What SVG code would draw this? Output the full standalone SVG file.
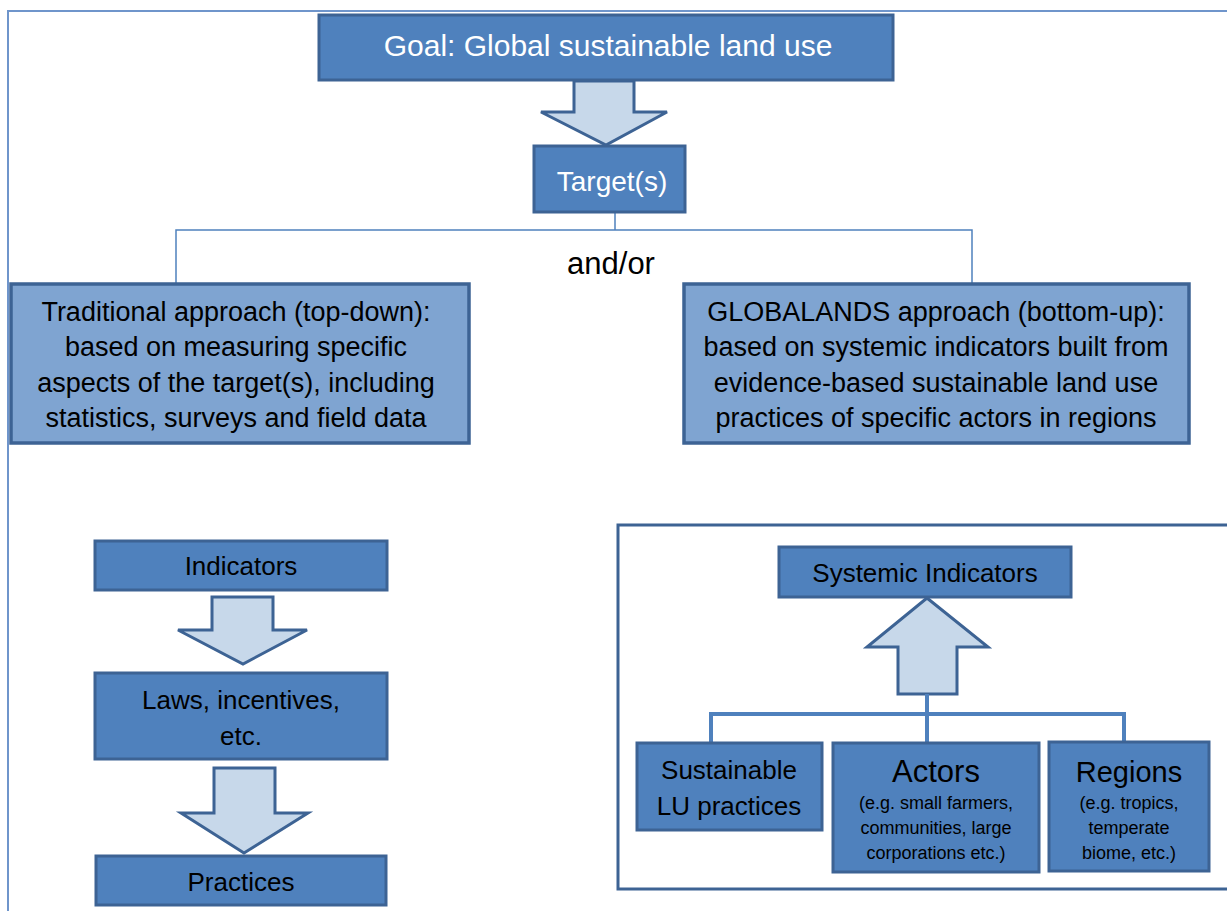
<svg xmlns="http://www.w3.org/2000/svg" width="1227" height="911" viewBox="0 0 1227 911">
<style>
.box{fill:#4f81bd;stroke:#3d6394;stroke-width:3}
.lbox{fill:#7fa4d1;stroke:#3d6394;stroke-width:3.5}
.arrow{fill:#c7d8ea;stroke:#3d6394;stroke-width:3;stroke-linejoin:miter}
.t{font-family:"Liberation Sans",Arial,sans-serif;text-anchor:middle;fill:#000}
.w{fill:#fff}
.thin{fill:none;stroke:#4f81bd;stroke-width:1.5}
.thick{fill:none;stroke:#4f81bd;stroke-width:4}
</style>
<rect width="1227" height="911" fill="#fff"/>
<g id="frame">
<path d="M8 911 V11 H1227" fill="none" stroke="#6f95cb" stroke-width="2"/>
<rect x="618" y="525" width="620" height="364" fill="none" stroke="#3d6394" stroke-width="3"/>
</g>
<g id="connectors">
<polygon class="arrow" points="574,81 634,81 634,112 667,112 606,145 541,112 574,112"/>
<path class="thin" d="M615 212 V230 M176 286 V230 H972 V286"/>
<polygon class="arrow" points="212,597 273,597 273,630 307,630 243,664 178,630 212,630"/>
<polygon class="arrow" points="214,768 275,768 275,813 308,813 244,853 181,813 214,813"/>
<polygon class="arrow" points="927,598 988,647 957,647 957,694 898,694 898,647 867,647"/>
<path class="thick" d="M927 694 V743 M711 743 V714 H1124 V742"/>
</g>
<g id="goal">
<rect class="box" x="319" y="15" width="574" height="65"/>
<text class="t w" x="608" y="56" font-size="30">Goal: Global sustainable land use</text>
</g>
<g id="target">
<rect class="box" x="534" y="146" width="151" height="66"/>
<text class="t w" x="612" y="191" font-size="28">Target(s)</text>
</g>
<g id="andor">
<text class="t" x="611" y="274" font-size="31">and/or</text>
</g>
<g id="traditional">
<rect class="lbox" x="11" y="284" width="458" height="159"/>
<text class="t" font-size="27"><tspan x="236" y="321">Traditional approach (top-down):</tspan><tspan x="236" y="356">based on measuring specific</tspan><tspan x="236" y="392">aspects of the target(s), including</tspan><tspan x="236" y="427">statistics, surveys and field data</tspan></text>
</g>
<g id="globalands">
<rect class="lbox" x="684" y="284" width="505" height="159"/>
<text class="t" font-size="27"><tspan x="936" y="321">GLOBALANDS approach (bottom-up):</tspan><tspan x="936" y="356">based on systemic indicators built from</tspan><tspan x="936" y="392">evidence-based  sustainable land use</tspan><tspan x="936" y="427">practices of specific actors in regions</tspan></text>
</g>
<g id="indicators">
<rect class="box" x="95" y="541" width="292" height="49"/>
<text class="t" x="241" y="575" font-size="26">Indicators</text>
</g>
<g id="laws">
<rect class="box" x="95" y="673" width="292" height="86"/>
<text class="t" font-size="26"><tspan x="241" y="709">Laws, incentives,</tspan><tspan x="241" y="745">etc.</tspan></text>
</g>
<g id="practices">
<rect class="box" x="96" y="856" width="290" height="49"/>
<text class="t" x="241" y="891" font-size="26">Practices</text>
</g>
<g id="systemic">
<rect class="box" x="779" y="547" width="292" height="50"/>
<text class="t" x="925" y="582" font-size="26">Systemic Indicators</text>
</g>
<g id="sustainable">
<rect class="box" x="637" y="743" width="185" height="87"/>
<text class="t" font-size="26"><tspan x="729" y="779">Sustainable</tspan><tspan x="729" y="815">LU practices</tspan></text>
</g>
<g id="actors">
<rect class="box" x="833" y="743" width="206" height="129"/>
<text class="t" x="936" y="782" font-size="31">Actors</text>
<text class="t" font-size="18"><tspan x="936" y="809">(e.g. small farmers,</tspan><tspan x="936" y="834">communities, large</tspan><tspan x="936" y="859">corporations etc.)</tspan></text>
</g>
<g id="regions">
<rect class="box" x="1049" y="742" width="160" height="129"/>
<text class="t" x="1129" y="782" font-size="29">Regions</text>
<text class="t" font-size="18"><tspan x="1129" y="809">(e.g. tropics,</tspan><tspan x="1129" y="834">temperate</tspan><tspan x="1129" y="859">biome, etc.)</tspan></text>
</g>
</svg>
